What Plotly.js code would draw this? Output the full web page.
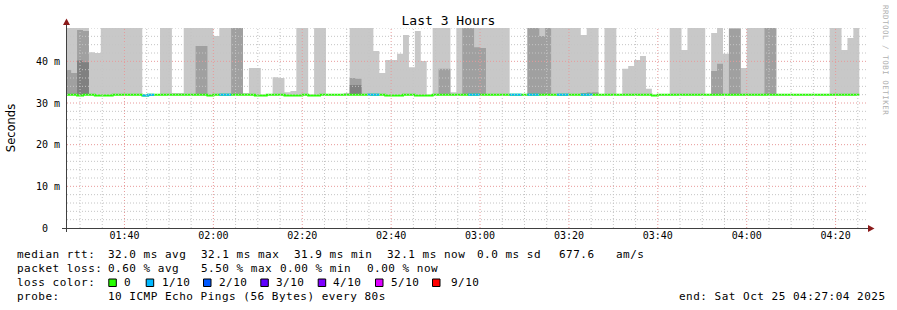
<!DOCTYPE html>
<html><head><meta charset="utf-8">
<script src="https://cdn.plot.ly/plotly-3.0.1.min.js"></script>
<style>
html,body{margin:0;padding:0;background:#fff;}
#chart{width:897px;height:310px;}
.annotation-text{letter-spacing:0.5px;}
</style>
</head><body><div id="chart"></div>
<script>
// ---- DATA (ms) : one value per 80 s RRD step, first step starts 01:26:40 ----
const firstStep = '2025-10-25T01:26:40Z';
const stepSeconds = 80;
const smokeBase = 32.0;
// outer (light) smoke top; 50 = above the 48 ms top of the graph
const smokeOuter = [
 50,50,50,50,42.2,42.0,50,50,50,50,
 50,50,50,32,32,32,50,50,32.4,32.4,
 50,50,50,50,50,46.1,50,50,50,50,
 32.4,38.4,38.4,32,32,36.2,36.0,32.6,32.9,50,
 50,32,50,50,32,32,32,32.4,50,50,
 50,50,42.5,37.2,40.3,40.3,41.8,46.3,38.6,47.3,
 40.1,32,50,50,50,32.6,50,50,50,50,
 50,50,50,50,50,32,32,32,50,50,
 50,50,50,50,50,50,50,46.3,50,50,
 32,50,50,32,38.2,38.9,40.3,41.3,33.4,32,
 32,32,50,50,42.7,50,50,50,32,46.8,
 50,41.8,50,50,38.4,50,50,50,50,50,
 32,32,32,32,32,32,32,32,32,50,
 50,42.7,45.6,50
];
// middle smoke top
const smokeMid = [
 37.9,37.2,47.5,47.3,32,32,32,32,32,32,
 32,32,32,32,32,32,32,32,32,32,
 32,32,43.7,43.7,32,32,32,32,50,50,
 32,32,32,32,32,32,32,32,32,32,
 32,32,32,32,32,32,32,32,36.0,35.8,
 32,32,32,32,32,32,32,32,32,32,
 32,32,32,38.2,38.2,32,32,50,50,43.4,
 43.2,32,32,32,32,32,32,32,50,50,
 46.1,50,32,32,32,32,32,32.4,32.6,32.6,
 32,32,32,32,32,32,32,32,32,32,
 32,32,32,32,32,32,32,32,32,37.7,
 39.4,32,47.8,47.8,32,32,32,32,50,50,
 32,32,32,32,32,32,32,32,32,32,
 32,32,32,32
];
// inner (dark) smoke top
const smokeInner = [
 32,32,40.2,39.8,32,32,32,32,32,32,
 32,32,32,32,32,32,32,32,32,32,
 32,32,32,32,32,32,32,32,32,32,
 32,32,32,32,32,32,32,32,32,32,
 32,32,32,32,32,32,32,32,34.3,34.3,
 32,32,32,32,32,32,32,32,32,32,
 32,32,32,32,32,32,32,32,32,32,
 32,32,32,32,32,32,32,32,32,32,
 32,32,32,32,32,32,32,32,32,32,
 32,32,32,32,32,32,32,32,32,32,
 32,32,32,32,32,32,32,32,32,32,
 32,32,32,32,32,32,32,32,32,32,
 32,32,32,32,32,32,32,32,32,32,
 32,32,32,32
];
const medianRtt = [
 32,32,31.8,32,32,31.8,31.8,31.8,32,32,
 32,32,32,31.8,32,32,32,32,32,32,
 32,32,32,32,31.8,32,32,32,32,32,
 32,32,31.8,31.8,32,32,32,31.8,31.8,31.8,
 32,31.8,31.8,32,32,32,32,32,32,32,
 32,32,32,32,31.8,31.8,31.8,32,32,31.8,
 31.8,31.8,32,32,32,32,32,32,32,32,
 32,32,32,32,32,32,32,32,32,32,
 32,32,32,32,32,32,32,32,32,32,
 32,32,32,32,32,32,32,32,32,31.8,
 32,32,32,32,32,32,32,32,32,32,
 32,32,32,32,32,32,32,32,32,32,
 32,32,32,32,32,32,32,32,32,32,
 32,32,32,32
];
// lost pings out of 10
const lossCount = [
 0,0,0,0,0,0,0,0,0,0,
 0,0,0,1,1,0,0,0,0,0,
 0,0,0,0,0,0,1,1,0,0,
 0,0,0,0,0,0,0,0,0,0,
 0,0,0,0,0,0,0,0,0,0,
 0,1,1,0,0,0,0,0,0,0,
 0,0,0,0,0,0,0,0,1,1,
 0,0,0,0,0,1,1,0,1,1,
 0,0,0,1,1,0,0,1,1,0,
 0,0,0,0,0,0,0,0,0,0,
 0,0,0,0,0,0,0,0,0,0,
 0,0,0,0,0,0,0,0,0,0,
 0,0,0,0,0,0,0,0,0,0,
 0,0,0,0
];
const lossLevels = [0,1,2,3,4,5,9];
const lossLabels = ['0','1/10','2/10','3/10','4/10','5/10','9/10'];
const lossColors = ['#26ff00','#00b8ff','#0059ff','#5e00ff','#7e00ff','#dd00ff','#ff0000'];
const yTickVals = [0,10,20,30,40];
const yTickText = ['0\u00a0\u00a0','10 m','20 m','30 m','40 m'];
const rttStats = ['median rtt:','32.0 ms avg','32.1 ms max','31.9 ms min','32.1 ms now','0.0 ms sd','677.6','am/s'];
const lossStats = ['packet loss:','0.60 % avg','5.50 % max','0.00 % min','0.00 % now'];
const probeText = ['probe:','10 ICMP Echo Pings (56 Bytes) every 80s','end: Sat Oct 25 04:27:04 2025'];
const chartTitle = 'Last 3 Hours';
const rangeStart = '2025-10-25 01:27:04', rangeEnd = '2025-10-25 04:27:04';

// ---- BUILD ----
const t0 = Date.parse(firstStep);
const tStr = ms => new Date(ms).toISOString().slice(0,19).replace('T',' ');
const N = medianRtt.length;
function stepXY(vals, keep){
  const x=[], y=[];
  for(let i=0;i<N;i++){
    if(keep && !keep(i)){ if(x.length && y[y.length-1]!==null){x.push(null);y.push(null);} continue; }
    x.push(tStr(t0+i*stepSeconds*1000), tStr(t0+(i+1)*stepSeconds*1000));
    y.push(vals[i]/1000, vals[i]/1000);
  }
  return {x,y};
}
const baseArr = medianRtt.map(()=>smokeBase);
const traces = [];
const shades = [[smokeOuter,'rgb(200,200,200)'],[smokeMid,'rgb(160,160,160)'],[smokeInner,'rgb(128,128,128)']];
shades.forEach(([arr,col])=>{
  const b = stepXY(baseArr), t = stepXY(arr);
  traces.push({x:b.x,y:b.y,type:'scatter',mode:'lines',line:{width:0},hoverinfo:'skip',showlegend:false});
  traces.push({x:t.x,y:t.y,type:'scatter',mode:'lines',line:{width:0},fill:'tonexty',fillcolor:col,hoverinfo:'skip',showlegend:false});
});
const med = stepXY(medianRtt);
traces.push({x:med.x,y:med.y,type:'scatter',mode:'lines',line:{width:2,color:lossColors[0]},hoverinfo:'skip',showlegend:false});
lossLevels.forEach((lv,li)=>{
  if(lv===0) return;
  if(!lossCount.some(v=>v===lv)) return;
  const s = stepXY(medianRtt, i=>lossCount[i]===lv);
  traces.push({x:s.x,y:s.y,type:'scatter',mode:'lines',line:{width:2,color:lossColors[li]},connectgaps:false,hoverinfo:'skip',showlegend:false});
});

// grid (drawn above the smoke like rrdtool)
const shapes = [];
const minorCol = '#c4c4c4', majorCol = '#e89a9a', dash = '1px,2px';
const gStart = Date.parse('2025-10-25T01:30:00Z');
for(let m=0; m<=175; m+=5){
  const t = gStart + m*60000;
  const major = ((m+10) % 20 === 0);
  shapes.push({type:'line',layer:'above',xref:'x',yref:'paper',x0:tStr(t),x1:tStr(t),y0:0,y1:1,
    line:{color:major?majorCol:minorCol,width:1,dash:dash}});
}
for(let v=2; v<=48; v+=2){
  const major = v%10===0;
  shapes.push({type:'line',layer:'above',xref:'paper',yref:'y',x0:0,x1:1,y0:v/1000,y1:v/1000,
    line:{color:major?majorCol:minorCol,width:1,dash:dash}});
}
// pixel helpers (plot area: x 67..867, y 28..228)
const PX = p => (p-67)/800, PY = p => (228-p)/200;
// axes with arrows
shapes.push({type:'line',layer:'above',xref:'paper',yref:'paper',x0:PX(66.5),x1:PX(66.5),y0:PY(232),y1:PY(22),line:{color:'#404040',width:1}});
shapes.push({type:'line',layer:'above',xref:'paper',yref:'paper',x0:PX(62),x1:PX(869),y0:PY(228.5),y1:PY(228.5),line:{color:'#404040',width:1}});
shapes.push({type:'path',layer:'above',xref:'paper',yref:'paper',
  path:`M ${PX(66.5)} ${PY(18.5)} L ${PX(63)} ${PY(25)} L ${PX(70)} ${PY(25)} Z`,fillcolor:'#8b1a1a',line:{width:0}});
shapes.push({type:'path',layer:'above',xref:'paper',yref:'paper',
  path:`M ${PX(874.5)} ${PY(228.5)} L ${PX(868)} ${PY(225)} L ${PX(868)} ${PY(232)} Z`,fillcolor:'#8b1a1a',line:{width:0}});

const annotations = [];
const mono = 'DejaVu Sans Mono';
function ann(text, px, py, extra){
  annotations.push(Object.assign({xref:'paper',yref:'paper',x:PX(px),y:PY(py),xanchor:'left',yanchor:'middle',
    text:text,showarrow:false,borderpad:0,font:{family:mono,size:11,color:'#000'}},extra||{}));
}
const rttX = [16.2,107,200,293,386,475.5,557.5,615];
rttStats.forEach((s,i)=>ann(s,rttX[i],254.5));
const lossX = [16.2,107,200,279.3,365.7];
lossStats.forEach((s,i)=>ann(s,lossX[i],268.3));
ann('loss color:',16.2,282.3);
const boxX = [108.3,145.7,203,260.3,317.7,375,432];
const labX = [123.3,160.7,218,275.3,332.3,389.7,450];
lossLabels.forEach((l,i)=>{
  shapes.push({type:'rect',xref:'paper',yref:'paper',x0:PX(boxX[i]+0.5),x1:PX(boxX[i]+8),y0:PY(286.5),y1:PY(279),
    fillcolor:lossColors[i],line:{color:'#000',width:1}});
  ann(l,labX[i],282.3);
});
ann(probeText[0],16.2,296);
ann(probeText[1],107,296);
ann(probeText[2],678.3,296);
annotations.push({xref:'paper',yref:'paper',x:PX(886),y:PY(60),xanchor:'center',yanchor:'middle',textangle:90,
  text:'RRDTOOL / TOBI OETIKER',showarrow:false,font:{family:mono,size:7.5,color:'#b0b0b0'}});

const layout = {
  width:897,height:310,
  margin:{l:67,r:30,t:28,b:82},
  paper_bgcolor:'#ffffff',plot_bgcolor:'#ffffff',
  showlegend:false,
  title:{text:chartTitle,x:0.5,xref:'container',y:1-20/310,yref:'container',yanchor:'middle',
    font:{family:mono,size:13,color:'#000'}},
  xaxis:{type:'date',range:[rangeStart,rangeEnd],showgrid:false,zeroline:false,showline:false,
    ticks:'',tick0:'2025-10-25 01:40:00',dtick:1200000,tickformat:'%H:%M',
    tickfont:{family:mono,size:10,color:'#000'},fixedrange:true},
  yaxis:{range:[0,0.048],showgrid:false,zeroline:false,showline:false,ticks:'',
    tickvals:yTickVals.map(v=>v/1000),ticktext:yTickText,ticklabelstandoff:6,
    tickfont:{family:mono,size:10,color:'#000'},
    title:{text:'Seconds',font:{family:'DejaVu Sans',size:11.5,color:'#000'},standoff:17},fixedrange:true},
  shapes:shapes,
  annotations:annotations
};
Plotly.newPlot('chart',traces,layout,{displayModeBar:false,staticPlot:true});
</script>
</body></html>
